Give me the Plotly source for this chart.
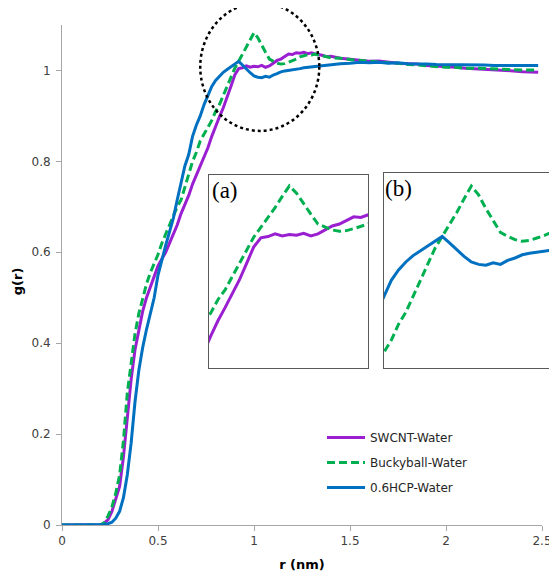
import plotly.graph_objects as go

# ---------------- data ----------------
r = [0.00, 0.10, 0.20, 0.22, 0.24, 0.26, 0.28, 0.30, 0.32, 0.34, 0.36, 0.38,
     0.40, 0.42, 0.44, 0.46, 0.48, 0.50, 0.52, 0.54, 0.56, 0.58, 0.60, 0.62,
     0.64, 0.66, 0.68, 0.70, 0.72, 0.74, 0.76, 0.78, 0.80, 0.82, 0.84, 0.86,
     0.88, 0.90, 0.92, 0.94, 0.96, 0.98, 1.00, 1.02, 1.04, 1.06, 1.08, 1.10,
     1.12, 1.14, 1.16, 1.18, 1.20, 1.22, 1.24, 1.26, 1.28, 1.30, 1.32, 1.34,
     1.36, 1.38, 1.40, 1.45, 1.50, 1.55, 1.60, 1.65, 1.70, 1.75, 1.80, 1.85,
     1.90, 1.95, 2.00, 2.05, 2.10, 2.15, 2.20, 2.25, 2.30, 2.35, 2.40, 2.45,
     2.48]

swcnt = [0.000, 0.000, 0.000, 0.004, 0.012, 0.030, 0.055, 0.085, 0.150, 0.240, 0.320, 0.385,
         0.430, 0.470, 0.500, 0.525, 0.550, 0.570, 0.585, 0.600, 0.620, 0.640, 0.660, 0.685,
         0.705, 0.725, 0.750, 0.770, 0.790, 0.810, 0.830, 0.855, 0.878, 0.898, 0.918, 0.940,
         0.965, 0.990, 1.004, 1.006, 1.010, 1.007, 1.009, 1.008, 1.011, 1.007, 1.010, 1.016,
         1.022, 1.025, 1.030, 1.036, 1.035, 1.039, 1.038, 1.040, 1.037, 1.039, 1.036, 1.035,
         1.033, 1.030, 1.031, 1.027, 1.025, 1.022, 1.020, 1.021, 1.018, 1.016, 1.015, 1.014,
         1.011, 1.010, 1.008, 1.007, 1.005, 1.004, 1.002, 1.001, 1.000, 0.999, 0.997, 0.997,
         0.996]

buckyball = [0.000, 0.000, 0.000, 0.005, 0.020, 0.040, 0.070, 0.110, 0.185, 0.290, 0.360, 0.420,
             0.465, 0.500, 0.530, 0.555, 0.575, 0.595, 0.620, 0.640, 0.660, 0.680, 0.700, 0.715,
             0.745, 0.775, 0.800, 0.820, 0.845, 0.860, 0.875, 0.890, 0.910, 0.925, 0.945, 0.965,
             0.985, 1.005, 1.020, 1.035, 1.050, 1.067, 1.083, 1.072, 1.055, 1.040, 1.025, 1.020,
             1.016, 1.014, 1.015, 1.018, 1.021, 1.025, 1.030, 1.033, 1.035, 1.034, 1.036, 1.033,
             1.032, 1.030, 1.028, 1.027, 1.024, 1.022, 1.021, 1.019, 1.017, 1.016, 1.013, 1.012,
             1.010, 1.008, 1.007, 1.007, 1.005, 1.005, 1.004, 1.003, 1.002, 1.002, 1.001, 1.001,
             1.001]

hcp = [0.000, 0.000, 0.000, 0.001, 0.003, 0.006, 0.015, 0.030, 0.060, 0.110, 0.180, 0.270,
       0.340, 0.390, 0.430, 0.465, 0.500, 0.550, 0.585, 0.615, 0.645, 0.675, 0.715, 0.750,
       0.790, 0.815, 0.855, 0.880, 0.900, 0.925, 0.945, 0.965, 0.978, 0.988, 0.996, 1.002,
       1.008, 1.014, 1.020, 1.012, 1.003, 0.995, 0.988, 0.985, 0.984, 0.987, 0.985, 0.990,
       0.993, 0.997, 0.999, 1.000, 1.001, 1.002, 1.004, 1.006, 1.007, 1.008, 1.009, 1.009,
       1.011, 1.012, 1.013, 1.015, 1.016, 1.018, 1.017, 1.018, 1.016, 1.017, 1.015, 1.015,
       1.014, 1.013, 1.013, 1.012, 1.013, 1.012, 1.012, 1.011, 1.011, 1.012, 1.011, 1.011,
       1.011]

names = ["SWCNT-Water", "Buckyball-Water", "0.6HCP-Water"]
x_ticks = [0, 0.5, 1, 1.5, 2, 2.5]
x_labels = ["0", "0.5", "1", "1.5", "2", "2.5"]
y_ticks = [0, 0.2, 0.4, 0.6, 0.8, 1.0]
y_labels = ["0", "0.2", "0.4", "0.6", "0.8", "1"]

# ---------------- styling ----------------
colors = {"SWCNT-Water": "#9A1FD0", "Buckyball-Water": "#00B050", "0.6HCP-Water": "#0070C0"}
dashes = {"SWCNT-Water": "solid", "Buckyball-Water": "8px,4px", "0.6HCP-Water": "solid"}
values = {"SWCNT-Water": swcnt, "Buckyball-Water": buckyball, "0.6HCP-Water": hcp}

# the page places the figure 8px in from the top-left corner of the window
OFF = 8
W, H = 557 - OFF, 578 - OFF
ML, MR, MT, MB = 62 - OFF, 2, 24.5 - OFF, 53
PW, PH = W - ML - MR, H - MT - MB
XMAX, YMAX = 2.5, 1.1
main_xdom = [0, 480 / PW]

def px_to_paper_x(px):          # px measured in the window
    return (px - OFF - ML) / PW

def px_to_paper_y(py):
    return (H - MB - (py - OFF)) / PH

def data_to_paper_x(v):
    return v / XMAX * main_xdom[1]

def data_to_paper_y(v):
    return v / YMAX

fig = go.Figure()

font_family = "DejaVu Sans"

for n in names:
    fig.add_trace(go.Scatter(
        x=r, y=values[n], mode="lines", name=n,
        line=dict(color=colors[n], width=3, dash=dashes[n]),
        legendgroup=n, xaxis="x", yaxis="y"))

# inset (a): SWCNT & Buckyball ; inset (b): Buckyball & HCP
for n in ["SWCNT-Water", "Buckyball-Water"]:
    fig.add_trace(go.Scatter(
        x=r, y=values[n], mode="lines", showlegend=False,
        line=dict(color=colors[n], width=3, dash=dashes[n]),
        xaxis="x2", yaxis="y2"))
for n in ["Buckyball-Water", "0.6HCP-Water"]:
    fig.add_trace(go.Scatter(
        x=r, y=values[n], mode="lines", showlegend=False,
        line=dict(color=colors[n], width=3, dash=dashes[n]),
        xaxis="x3", yaxis="y3"))

axis_gray = "#A6A6A6"
tick_font = dict(family=font_family, size=12, color="#404040")

inset_axis = dict(showticklabels=False, ticks="", showgrid=False, zeroline=False,
                  showline=True, mirror=True, linecolor="#595959", linewidth=1.2,
                  automargin=False)

fig.update_layout(
    width=W, height=H,
    margin=dict(l=ML, r=MR, t=MT, b=MB, pad=0, autoexpand=False),
    paper_bgcolor="white", plot_bgcolor="white",
    font=dict(family=font_family, size=12, color="#404040"),
    xaxis=dict(domain=main_xdom, range=[0, XMAX], tickvals=x_ticks, ticktext=x_labels,
               showgrid=False, zeroline=False, showline=True, linecolor=axis_gray,
               linewidth=1, ticks="outside", ticklen=5, tickcolor=axis_gray,
               tickfont=tick_font, automargin=False,
               title=dict(text="<b>r (nm)</b>", font=dict(family=font_family, size=13, color="black"),
                          standoff=12)),
    yaxis=dict(domain=[0, 1], range=[0, YMAX], tickvals=y_ticks, ticktext=y_labels,
               showgrid=False, zeroline=False, showline=True, linecolor=axis_gray,
               linewidth=1, ticks="outside", ticklen=5, tickcolor=axis_gray,
               tickfont=tick_font, automargin=False, ticklabelstandoff=3),
    xaxis2=dict(domain=[px_to_paper_x(209), px_to_paper_x(368)], range=[0.775, 1.22],
                anchor="y2", **inset_axis),
    yaxis2=dict(domain=[px_to_paper_y(368), px_to_paper_y(175)], range=[0.806, 1.099],
                anchor="x2", **inset_axis),
    xaxis3=dict(domain=[px_to_paper_x(384), px_to_paper_x(555)], range=[0.76, 1.23],
                anchor="y3", **inset_axis),
    yaxis3=dict(domain=[px_to_paper_y(368), px_to_paper_y(173)], range=[0.855, 1.099],
                anchor="x3", **inset_axis),
    legend=dict(x=px_to_paper_x(322), y=px_to_paper_y(423), xanchor="left", yanchor="top",
                bgcolor="rgba(255,255,255,0)", font=dict(family=font_family, size=12, color="#262626"),
                tracegroupgap=6, itemwidth=38),
    showlegend=True,
)

# y-axis title placed as a rotated label
fig.add_annotation(text="<b>g(r)</b>", xref="paper", yref="paper",
                   x=px_to_paper_x(17), y=px_to_paper_y(281), xanchor="center", yanchor="middle",
                   textangle=-90, showarrow=False,
                   font=dict(family=font_family, size=13, color="black"))

# dotted circle highlighting the first-peak region
cx, cy, rx, ry = 1.03, 1.008, 0.31, 0.141
fig.add_shape(type="circle", xref="paper", yref="paper",
              x0=data_to_paper_x(cx - rx), x1=data_to_paper_x(cx + rx),
              y0=data_to_paper_y(cy - ry), y1=data_to_paper_y(cy + ry),
              line=dict(color="black", width=2.5, dash="dot"))

# inset labels
fig.add_annotation(text="(a)", xref="paper", yref="paper",
                   x=px_to_paper_x(210), y=px_to_paper_y(176), xanchor="left", yanchor="top",
                   showarrow=False, font=dict(family="Liberation Serif", size=23, color="black"))
fig.add_annotation(text="(b)", xref="paper", yref="paper",
                   x=px_to_paper_x(383), y=px_to_paper_y(174), xanchor="left", yanchor="top",
                   showarrow=False, font=dict(family="Liberation Serif", size=23, color="black"))

fig.write_html("out.html")
